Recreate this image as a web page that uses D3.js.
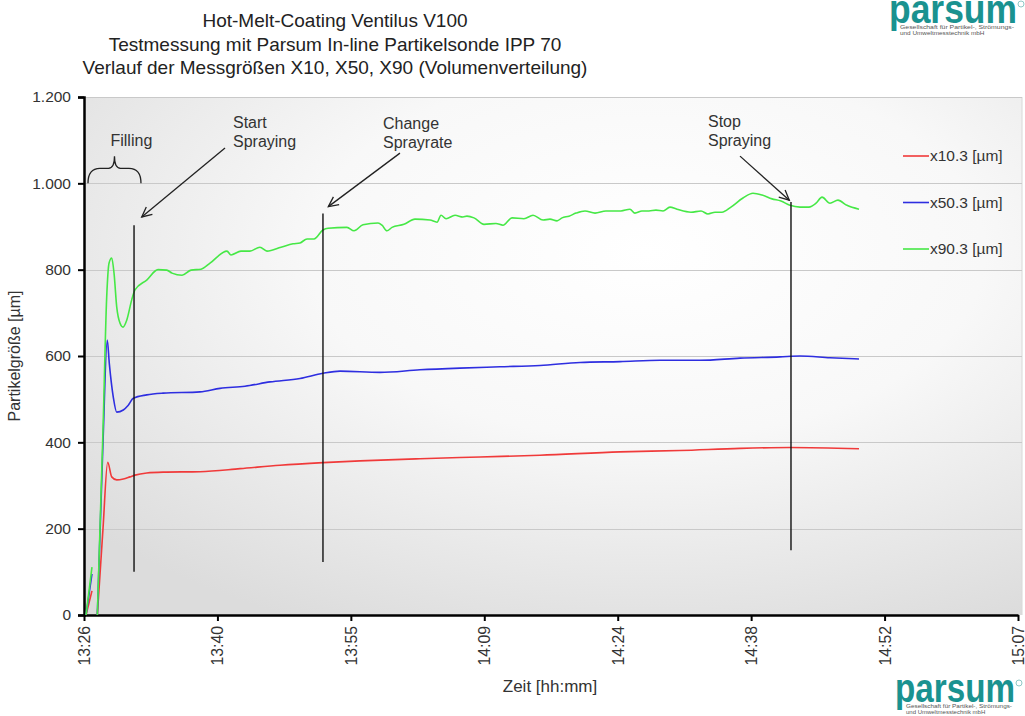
<!DOCTYPE html>
<html>
<head>
<meta charset="utf-8">
<script src="https://cdn.jsdelivr.net/npm/d3@7"></script>
<style>
  html, body { margin: 0; padding: 0; background: #ffffff; }
  svg { display: block; font-family: "Liberation Sans", Arial, sans-serif; }
</style>
</head>
<body>
<svg id="chart" width="1025" height="716"></svg>
<script>
// ---- Data (time in minutes after 13:00, values in µm) ----
const titleLines = [
  "Hot-Melt-Coating Ventilus V100",
  "Testmessung mit Parsum In-line Partikelsonde IPP 70",
  "Verlauf der Messgrößen X10, X50, X90 (Volumenverteilung)"
];
const seriesNames = ["x10.3 [µm]", "x50.3 [µm]", "x90.3 [µm]"];
const seriesColors = ["#f03a3a", "#2e2ee0", "#46e846"];
const xTicks = [26.4, 40.8, 55.2, 69.6, 84.0, 98.4, 112.8, 127.2];
const yTicks = [0, 200, 400, 600, 800, 1000, 1200];

const x10Time = [26.62, 27.26, null, 27.84, 28.45, 28.96, 29.39, 29.93, 30.64, 31.36, 31.90, 33.17, 34.93, 38.92, 43.24, 47.55, 52.19, 56.19, 62.66, 69.14, 75.61, 84.25, 90.72, 97.20, 102.59, 110.04];
const x10Value = [0, 56, null, 0, 200, 354, 320, 313, 315, 320, 324, 329, 331, 332, 339, 347, 353, 357, 362, 366, 370, 378, 381, 386, 388, 385];

const x50Time = [26.62, 27.26, null, 27.84, 28.45, 28.91, 29.13, 29.56, 29.93, 30.64, 31.18, 31.72, 33.17, 34.93, 38.92, 41.08, 43.78, 46.47, 49.71, 52.19, 54.03, 58.34, 62.66, 66.98, 71.30, 75.61, 79.93, 84.25, 88.56, 92.88, 97.20, 101.51, 103.67, 106.91, 110.04];
const x50Value = [0, 95, null, 0, 400, 637, 583, 505, 470, 475, 486, 502, 510, 514, 517, 525, 530, 540, 548, 560, 565, 562, 568, 572, 575, 578, 585, 587, 590, 590, 595, 598, 600, 596, 593];

const x90Time = [26.62, 27.26, null, 27.84, 28.45, 28.85, 29.10, 29.39, 29.64, 29.93, 30.29, 30.61, 31.01, 31.55, 31.90, 33.17, 34.39, 35.33, 35.90, 36.98, 37.95, 39.03, 40.00, 41.83, 42.26, 43.34, 44.31, 45.39, 46.15, 47.66, 48.96, 49.71, 50.47, 51.22, 52.19, 52.73, 54.78, 55.54, 56.51, 58.13, 58.56, 59.10, 59.64, 60.93, 62.12, 63.74, 64.50, 64.93, 65.47, 66.44, 67.30, 67.73, 68.49, 69.57, 70.86, 71.62, 72.59, 73.88, 74.86, 75.94, 76.69, 77.45, 77.99, 78.74, 79.50, 80.47, 81.55, 82.73, 84.35, 85.32, 85.86, 86.62, 87.37, 88.13, 88.89, 89.64, 90.40, 91.91, 92.99, 93.74, 94.50, 95.25, 96.22, 97.52, 98.60, 99.57, 100.65, 101.62, 102.59, 103.67, 104.64, 105.40, 106.05, 106.91, 107.77, 108.74, 110.04];
const x90Value = [0, 111, null, 0, 428, 737, 815, 827, 792, 714, 676, 667, 683, 730, 753, 776, 800, 799, 792, 787, 799, 801, 815, 843, 834, 843, 843, 852, 843, 852, 860, 862, 871, 871, 892, 896, 898, 890, 904, 908, 903, 890, 898, 905, 917, 915, 910, 926, 918, 926, 922, 924, 920, 905, 907, 903, 920, 918, 926, 915, 917, 913, 920, 924, 931, 936, 931, 936, 936, 940, 931, 936, 936, 938, 936, 945, 940, 933, 936, 929, 933, 933, 945, 966, 977, 973, 964, 959, 949, 945, 945, 954, 968, 954, 961, 949, 940];

// annotation markers (time, top value, bottom value)
const eventNames = [["Start", "Spraying"], ["Change", "Sprayrate"], ["Stop", "Spraying"]];
const eventTime = [31.80, 52.19, 102.70];
const eventTop = [903, 930, 957];
const eventBottom = [100, 123, 150];
const arrowFrom = [[41.62, 1082], [60.50, 1070], [97.20, 1063]];
const arrowTo = [[32.63, 922], [52.77, 946], [102.52, 961]];
const labelPos = [[42.48, 1128], [58.67, 1126], [93.74, 1130]];
const fillingLabel = "Filling";
const fillingSpan = [26.83, 32.55];

// ---- Layout ----
const svg = d3.select("#chart");
const mLeft = 84, mRight = 1018, plotRight = 1022, mTop = 97, mBottom = 615;
const x = d3.scaleLinear().domain([26.4, 127.2]).range([mLeft, mRight]);
const y = d3.scaleLinear().domain([0, 1200]).range([mBottom, mTop]);
const de = d3.formatLocale({decimal: ",", thousands: ".", grouping: [3], currency: ["", "€"]});
const fmtY = de.format(",d");
const fmtT = t => { const m = Math.floor(13 * 60 + t + 1e-6); return Math.floor(m / 60) + ":" + String(m % 60).padStart(2, "0"); };

const defs = svg.append("defs");
const grad = defs.append("radialGradient").attr("id", "bg")
  .attr("cx", 0.6).attr("cy", 0.3).attr("r", 0.8);
grad.append("stop").attr("offset", 0).attr("stop-color", "#ffffff");
grad.append("stop").attr("offset", 0.45).attr("stop-color", "#f8f8f8");
grad.append("stop").attr("offset", 1).attr("stop-color", "#dcdcdc");

svg.append("rect").attr("x", mLeft).attr("y", mTop).attr("width", plotRight - mLeft).attr("height", mBottom - mTop)
  .attr("fill", "url(#bg)");
svg.append("line").attr("x1", plotRight).attr("x2", plotRight).attr("y1", mTop).attr("y2", mBottom)
  .attr("stroke", "#d8d8d8").attr("stroke-width", 1);

// gridlines
svg.append("g").selectAll("line").data(yTicks.filter(d => d > 0)).join("line")
  .attr("x1", mLeft).attr("x2", plotRight)
  .attr("y1", d => Math.round(y(d)) + 0.5).attr("y2", d => Math.round(y(d)) + 0.5)
  .attr("stroke", "#c9c9c9").attr("stroke-width", 1);

// title
svg.append("g").selectAll("text").data(titleLines).join("text")
  .attr("x", 335).attr("y", (d, i) => 27 + i * 23.5)
  .attr("text-anchor", "middle").attr("font-size", 19).attr("fill", "#222")
  .text(d => d);

// axes
const yAxis = svg.append("g").attr("transform", `translate(${mLeft},0)`)
  .call(d3.axisLeft(y).tickValues(yTicks).tickFormat(fmtY).tickSize(6).tickPadding(7));
yAxis.select(".domain").attr("stroke", "#000").attr("stroke-width", 2.5);
yAxis.selectAll(".tick line").attr("stroke", "#000").attr("stroke-width", 2);
yAxis.selectAll("text").attr("font-size", 15.5).attr("fill", "#333")
  .attr("font-family", "Liberation Sans, Arial, sans-serif");

const xAxis = svg.append("g").attr("transform", `translate(0,${mBottom})`)
  .call(d3.axisBottom(x).tickValues(xTicks).tickFormat(fmtT).tickSize(6).tickSizeOuter(0));
xAxis.select(".domain").attr("stroke", "#000").attr("stroke-width", 2.5);
xAxis.selectAll(".tick line").attr("stroke", "#000").attr("stroke-width", 2);
xAxis.selectAll("text").attr("font-size", 15.8).attr("fill", "#333")
  .attr("font-family", "Liberation Sans, Arial, sans-serif")
  .attr("transform", "rotate(-90)").attr("text-anchor", "end")
  .attr("x", -11).attr("y", 0).attr("dy", "0.35em");

// axis titles
svg.append("text").attr("transform", "translate(20,356) rotate(-90)")
  .attr("text-anchor", "middle").attr("font-size", 16).attr("fill", "#333")
  .text("Partikelgröße [µm]");
svg.append("text").attr("x", 550).attr("y", 692).attr("text-anchor", "middle")
  .attr("font-size", 17).attr("fill", "#333").text("Zeit [hh:mm]");

// series
const seriesTimes = [x10Time, x50Time, x90Time];
const seriesValues = [x10Value, x50Value, x90Value];
const line = d3.line().defined(d => d[0] !== null).x(d => x(d[0])).y(d => y(d[1])).curve(d3.curveMonotoneX);
seriesTimes.forEach((ts, i) => {
  const pts = ts.map((t, j) => [t, seriesValues[i][j]]);
  svg.append("path").datum(pts).attr("d", line)
    .attr("fill", "none").attr("stroke", seriesColors[i]).attr("stroke-width", 1.6)
    .attr("stroke-linejoin", "round");
});

// event lines
eventTime.forEach((t, i) => {
  svg.append("line").attr("x1", x(t)).attr("x2", x(t)).attr("y1", y(eventTop[i])).attr("y2", y(eventBottom[i]))
    .attr("stroke", "#111").attr("stroke-width", 1.4);
  const x1 = x(arrowFrom[i][0]), y1 = y(arrowFrom[i][1]), x2 = x(arrowTo[i][0]), y2 = y(arrowTo[i][1]);
  svg.append("line").attr("x1", x1).attr("y1", y1).attr("x2", x2).attr("y2", y2)
    .attr("stroke", "#222").attr("stroke-width", 1.3);
  const ang = Math.atan2(y2 - y1, x2 - x1), L = 11, spread = 0.45;
  const p = a => [x2 - L * Math.cos(ang + a), y2 - L * Math.sin(ang + a)];
  const pa = p(spread), pb = p(-spread);
  svg.append("path").attr("d", `M${pa[0]},${pa[1]} L${x2},${y2} L${pb[0]},${pb[1]}`)
    .attr("fill", "none").attr("stroke", "#222").attr("stroke-width", 1.3);
  svg.append("g").selectAll("text").data(eventNames[i]).join("text")
    .attr("x", x(labelPos[i][0])).attr("y", (d, k) => y(labelPos[i][1]) + k * 19)
    .attr("font-size", 16).attr("fill", "#333").text(d => d);
});

// filling brace
const bx0 = x(fillingSpan[0]), bx1 = x(fillingSpan[1]), bm = (bx0 + bx1) / 2;
const by0 = y(1000), by1 = by0 - 15, byTip = by0 - 27;
svg.append("path")
  .attr("d", `M${bx0},${by0} Q${bx0},${by1} ${bx0 + 12},${by1} L${bm - 6},${by1} Q${bm},${by1} ${bm},${byTip} Q${bm},${by1} ${bm + 6},${by1} L${bx1 - 12},${by1} Q${bx1},${by1} ${bx1},${by0}`)
  .attr("fill", "none").attr("stroke", "#222").attr("stroke-width", 1.3);
svg.append("text").attr("x", bm - 4).attr("y", byTip - 10)
  .attr("font-size", 16).attr("fill", "#333").text(fillingLabel);

// legend
const lg = svg.append("g");
seriesNames.forEach((n, i) => {
  const ly = 156 + i * 46.5;
  lg.append("line").attr("x1", 903).attr("x2", 929).attr("y1", ly).attr("y2", ly)
    .attr("stroke", seriesColors[i]).attr("stroke-width", 1.6);
  lg.append("text").attr("x", 930).attr("y", ly).attr("dy", "0.35em")
    .attr("font-size", 15.5).attr("fill", "#333").text(n);
});

// logos
function logo(gx, gy, w) {
  const g = svg.append("g").attr("transform", `translate(${gx},${gy})`);
  g.append("text").attr("x", 0).attr("y", 0).attr("font-size", 40).attr("font-weight", "bold")
    .attr("fill", "#1a9290").attr("textLength", w).attr("lengthAdjust", "spacingAndGlyphs")
    .text("parsum");
  g.append("circle").attr("cx", w + 4).attr("cy", -19).attr("r", 3).attr("fill", "none")
    .attr("stroke", "#8fc9c7").attr("stroke-width", 1);
  g.append("text").attr("x", 11).attr("y", 6).attr("font-size", 6).attr("fill", "#555")
    .attr("textLength", w - 14).attr("lengthAdjust", "spacingAndGlyphs").text("Gesellschaft für Partikel-, Strömungs-");
  g.append("text").attr("x", 11).attr("y", 12).attr("font-size", 6).attr("fill", "#555")
    .attr("textLength", w * 0.66).attr("lengthAdjust", "spacingAndGlyphs").text("und Umweltmesstechnik mbH");
}
logo(889, 23, 128);
logo(895, 702, 120);
</script>
</body>
</html>
